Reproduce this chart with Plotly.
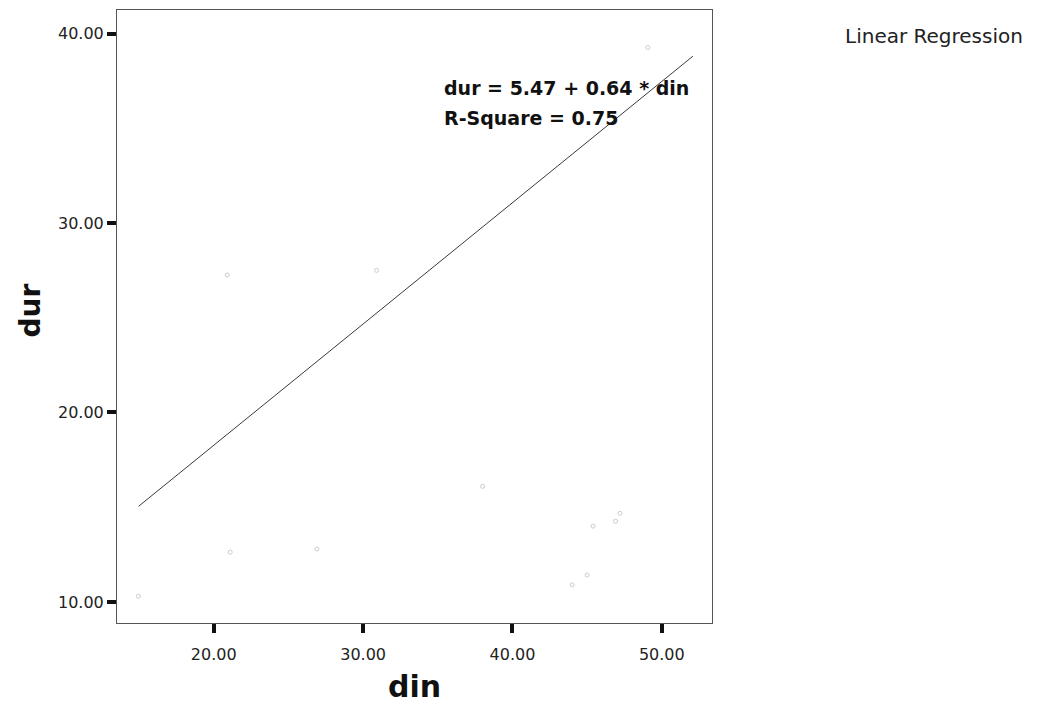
import plotly.graph_objects as go

# Observed cases
din = [14.95, 20.9, 21.1, 26.9, 30.9, 38.0, 44.0, 45.0, 45.4, 46.9, 47.2, 49.06]
dur = [10.3, 27.26, 12.63, 12.79, 27.5, 16.1, 10.9, 11.42, 14.0, 14.26, 14.68, 39.26]

# Fitted linear model, drawn over the observed range of din
intercept = 5.47
slope = 0.64
r_square = 0.75
fit_din = [14.97, 52.08]
fit_dur = [intercept + slope * v for v in fit_din]

x_ticks = [20, 30, 40, 50]
y_ticks = [10, 20, 30, 40]

FONT = "'DejaVu Sans', Arial, sans-serif"

fig = go.Figure()

fig.add_trace(go.Scatter(
    x=din, y=dur, mode="markers",
    marker=dict(symbol="circle-open", size=4, color="#cccccc", line=dict(width=1)),
    showlegend=False, hoverinfo="skip",
))

fig.add_trace(go.Scatter(
    x=fit_din, y=fit_dur, mode="lines",
    line=dict(color="#3a3a3a", width=1),
    showlegend=False, hoverinfo="skip",
))

axis_common = dict(
    showgrid=False, zeroline=False,
    showline=True, linecolor="#555555", linewidth=1, mirror=True,
    ticks="outside", ticklen=9, tickwidth=4, tickcolor="#111111",
    tickfont=dict(family=FONT, size=16, color="#222222"),
)

fig.update_xaxes(
    range=[13.52, 53.36], tickvals=x_ticks,
    ticktext=[f"{v:.2f}" for v in x_ticks], ticklabelstandoff=8, **axis_common,
)
fig.update_yaxes(
    range=[8.89, 41.24], tickvals=y_ticks,
    ticktext=[f"{v:.2f}" for v in y_ticks], **axis_common,
)

annotations = [
    dict(text=f"<b>dur = {intercept:.2f} + {slope:.2f} * din</b>", x=0.546, y=0.872,
         font=dict(family=FONT, size=19, color="#111111")),
    dict(text=f"<b>R-Square = {r_square:.2f}</b>", x=0.546, y=0.824,
         font=dict(family=FONT, size=19, color="#111111")),
    dict(text="Linear Regression", x=1.22, y=0.957,
         font=dict(family=FONT, size=20, color="#222222")),
]
for a in annotations:
    fig.add_annotation(xref="paper", yref="paper", xanchor="left", yanchor="middle",
                       showarrow=False, **a)

# Axis titles
fig.add_annotation(text="<b>din</b>", xref="paper", yref="paper", x=0.5, y=-0.103,
                   xanchor="center", yanchor="middle", showarrow=False,
                   font=dict(family=FONT, size=30, color="#111111"))
fig.add_annotation(text="<b>dur</b>", xref="paper", yref="paper", x=-0.146, y=0.51,
                   xanchor="center", yanchor="middle", showarrow=False, textangle=-90,
                   font=dict(family=FONT, size=28, color="#111111"))

fig.update_layout(
    width=1049, height=725,
    margin=dict(l=117, r=337, t=10, b=102),
    paper_bgcolor="white", plot_bgcolor="white",
)

fig.write_html("out.html")
